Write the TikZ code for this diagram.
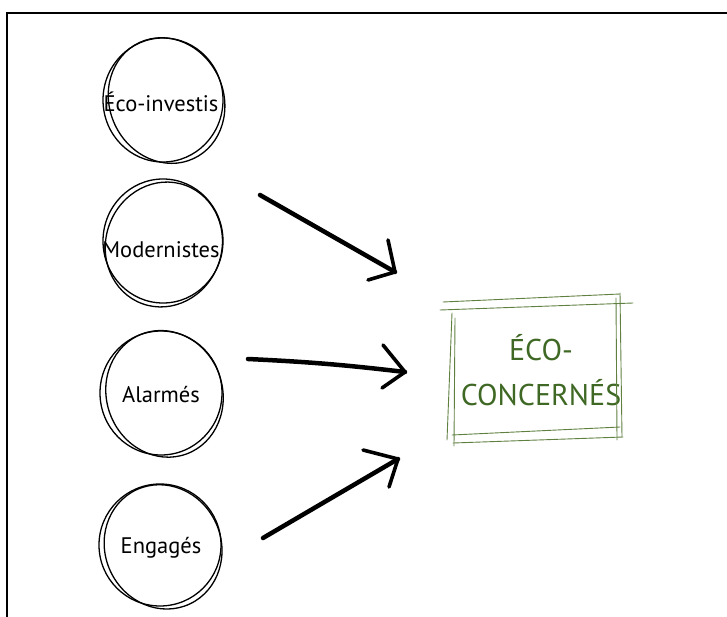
\documentclass[tikz,border=0pt]{standalone}
\usepackage{fontspec}
\setmainfont{PT Sans}
\definecolor{boxgreen}{RGB}{96,128,64}
\definecolor{textgreen}{RGB}{62,104,36}
\tikzstyle{pen}=[line width=4.5, line cap=round, line join=round]
\tikzstyle{barb}=[line width=3.6, line cap=round, line join=round]
\tikzstyle{sketch}=[line width=1.3]
\tikzstyle{greenline}=[line width=0.9, boxgreen, line cap=round]
\tikzstyle{bubble}=[circle, minimum size=124]
\tikzstyle{word}=[anchor=base, font=\fontsize{22.5}{27}\selectfont]

\begin{document}
\begin{tikzpicture}[x=1pt, y=-1pt]
\useasboundingbox (0,0) rectangle (727,617);
% Frame
    \draw[line width=2.2] (7,617) -- (7,13) -- (727,13);
% Bubbles
    \node[bubble] (inv) at (163,100) {};
    \node[bubble] (mod) at (163,241) {};
    \node[bubble] (ala) at (161,393) {};
    \node[bubble] (eng) at (160,545) {};
    \draw[sketch] (inv) ellipse [x radius=60, y radius=62];
    \draw[sketch, shift={(inv)}, rotate=25] (3,2) ellipse [x radius=57, y radius=64];
    \draw[sketch] (mod) ellipse [x radius=60, y radius=62];
    \draw[sketch, shift={(mod)}, rotate=-20] (2,3) ellipse [x radius=58, y radius=63];
    \draw[sketch] (ala) ellipse [x radius=61, y radius=62];
    \draw[sketch, shift={(ala)}, rotate=20] (3,2) ellipse [x radius=58, y radius=64];
    \draw[sketch] (eng) ellipse [x radius=61, y radius=61];
    \draw[sketch, shift={(eng)}, rotate=25] (2,3) ellipse [x radius=58, y radius=63];
% Bubble texts
    \node[word] (invt) at (161,112) {Éco-investis};
    \node[word] (modt) at (161,258) {Modernistes};
    \node[word] (alat) at (161,402) {Alarmés};
    \node[word] (engt) at (161,553) {Engagés};
% Arrows
    \coordinate (a1s) at (260,195);
    \coordinate (a1t) at (395,272);
    \coordinate (a1u) at (388,240);
    \coordinate (a1d) at (368,280);
    \coordinate (a2s) at (248,359);
    \coordinate (a2t) at (405,372);
    \coordinate (a2u) at (383,345);
    \coordinate (a2d) at (382,388);
    \coordinate (a3s) at (263,538);
    \coordinate (a3t) at (398,459);
    \coordinate (a3u) at (363,450);
    \coordinate (a3d) at (389,487);
    \draw[pen] (a1s) -- (a1t);
    \draw[barb] (a1u) -- (a1t) -- (a1d);
    \draw[pen] (a2s) to[bend left=2] (a2t);
    \draw[barb] (a2u) -- (a2t) -- (a2d);
    \draw[pen] (a3s) -- (a3t);
    \draw[barb] (a3u) -- (a3t) -- (a3d);
% Green box
    \node[align=center, textgreen, font=\fontsize{30}{45}\selectfont] (eco) at (541,370) {ÉCO-\\CONCERNÉS};
    \draw[greenline] (443,302) -- (620,294);
    \draw[greenline] (440,310) -- (633,303);
    \draw[greenline] (452,313) -- (447,440);
    \draw[greenline] (455,318) -- (454,446);
    \draw[greenline] (620,293) -- (622,437);
    \draw[greenline] (616,298) -- (617,440);
    \draw[greenline] (452,435) -- (620,427);
    \draw[greenline] (453,443) -- (623,437);
\end{tikzpicture}
\end{document}
